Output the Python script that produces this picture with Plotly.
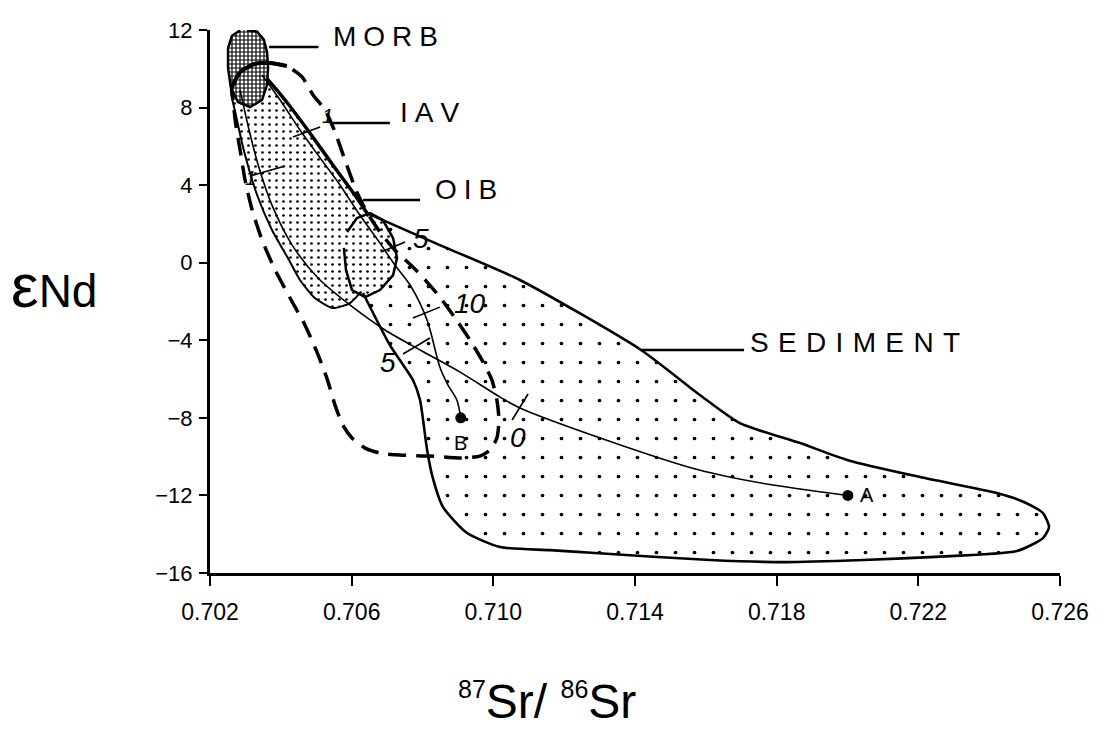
import plotly.graph_objects as go

# ---------------- data: 87Sr/86Sr (x) and epsilon-Nd (y) ----------------
# MORB field
morb_sr = [0.70304, 0.70333, 0.70352, 0.70361, 0.70364, 0.70361, 0.70347, 0.70313,
           0.70279, 0.70259, 0.70251, 0.70251, 0.70262, 0.70285]
morb_nd = [12.0, 11.92, 11.50, 10.87, 10.04, 9.16, 8.39, 8.03,
           8.29, 9.01, 10.04, 11.07, 11.70, 11.98]

# island-arc volcanics field
iav_sr = [0.70273, 0.70313, 0.70341, 0.70412, 0.70482, 0.70553, 0.70609, 0.70643,
          0.70657, 0.70652, 0.70629, 0.70595, 0.70547, 0.70496, 0.70454, 0.70420,
          0.70375, 0.70333, 0.70299, 0.70273, 0.70259]
iav_nd = [9.68, 9.94, 9.83, 8.39, 6.69, 4.88, 3.49, 2.56,
          1.94, 0.14, -1.41, -2.08, -2.34, -1.82, -0.89, 0.24,
          1.69, 3.49, 5.55, 7.62, 8.91]

# ocean-island basalt field
oib_sr = [0.70587, 0.70615, 0.70652, 0.70688, 0.70717, 0.70728, 0.70717, 0.70680,
          0.70638, 0.70601, 0.70584, 0.70578]
oib_nd = [1.58, 2.30, 2.56, 2.20, 1.27, 0.24, -0.64, -1.41,
          -1.77, -1.41, -0.38, 0.76]

# sediment field
sed_sr = [0.70643, 0.70849, 0.71075, 0.71417, 0.71583, 0.71696, 0.71866, 0.72001,
          0.72205, 0.72422, 0.72498, 0.72552, 0.72569, 0.72552, 0.72478, 0.72233,
          0.72044, 0.71826, 0.71612, 0.71287, 0.71160, 0.71019, 0.70926, 0.70858,
          0.70827, 0.70813, 0.70793, 0.70773, 0.70708, 0.70632]
sed_nd = [2.56, 0.91, -0.89, -4.50, -6.82, -8.27, -9.30, -10.18,
          -11.05, -11.88, -12.34, -12.91, -13.63, -14.20, -14.87, -15.18,
          -15.33, -15.44, -15.33, -14.97, -14.82, -14.66, -13.94, -12.60,
          -10.95, -9.66, -7.08, -6.05, -4.25, -1.56]

# dashed field
dash_sr = [0.70262, 0.70285, 0.70327, 0.70369, 0.70417, 0.70460, 0.70491, 0.70525,
           0.70553, 0.70581, 0.70612, 0.70643, 0.70680, 0.70722, 0.70773, 0.70813,
           0.70849, 0.70892, 0.70934, 0.70968, 0.70996, 0.71010, 0.71016, 0.71010,
           0.70991, 0.70962, 0.70906, 0.70821, 0.70736, 0.70680, 0.70638, 0.70601,
           0.70575, 0.70553, 0.70530, 0.70502, 0.70468, 0.70426, 0.70384, 0.70347,
           0.70319, 0.70299, 0.70285, 0.70273, 0.70265, 0.70262]
dash_nd = [9.06, 9.83, 10.25, 10.30, 10.14, 9.58, 8.65, 7.87,
           6.74, 5.30, 3.75, 2.61, 1.58, 0.65, -0.22, -1.00,
           -1.77, -2.85, -3.99, -5.02, -6.05, -7.08, -8.11, -9.04,
           -9.66, -9.97, -10.07, -9.97, -9.92, -9.82, -9.56, -9.04,
           -8.37, -7.34, -5.95, -4.61, -3.21, -1.82, -0.38, 1.17,
           2.72, 4.26, 5.81, 7.10, 8.39, 9.06]

# mixing curve towards sediment A
mixA_sr = [0.70285, 0.70307, 0.70336, 0.70375, 0.70432, 0.70505, 0.70595, 0.70694,
           0.70793, 0.70906, 0.71019, 0.71075, 0.71318, 0.71579, 0.71768, 0.72001]
mixA_nd = [8.91, 7.10, 5.04, 2.97, 0.91, -0.79, -2.18, -3.47,
           -4.50, -5.64, -6.93, -7.49, -9.14, -10.68, -11.40, -12.0]

# mixing curve towards sediment B
mixB_sr = [0.70347, 0.70398, 0.70454, 0.70511, 0.70567, 0.70623, 0.70680, 0.70722,
           0.70765, 0.70813, 0.70849, 0.70872, 0.70897, 0.70908]
mixB_nd = [9.68, 8.39, 6.84, 5.40, 4.01, 2.46, 1.01, -0.12,
           -1.15, -2.96, -5.38, -6.31, -7.08, -8.0]

# end members
end_sr = [0.72001, 0.70908]
end_nd = [-12.0, -8.0]
end_names = ["A", "B"]

# tick marks on mixing curves (start / end of each short bar)
tick_sr0 = [0.70313, 0.70434, 0.70683, 0.70773, 0.70745, 0.71053]
tick_nd0 = [4.47, 6.48, 0.55, -2.85, -4.71, -8.11]
tick_sr1 = [0.70412, 0.70511, 0.70751, 0.70849, 0.70821, 0.71098]
tick_nd1 = [4.99, 7.00, 1.07, -2.29, -3.88, -6.77]
tick_text = ["1", "1", "5", "10", "5", "0"]
tick_lab_sr = [0.70313, 0.70533, 0.70796, 0.70934, 0.70703, 0.71070]
tick_lab_nd = [4.37, 7.56, 1.27, -2.08, -5.17, -8.99]

# field names with leader lines (letter-spaced)
SP_N = "\u2005"
SP_W = "\u2004"
field_names = [SP_N.join("MORB"), SP_N.join("IAV"), SP_N.join("OIB"), SP_W.join("SEDIMENT")]
leader_sr0 = [0.70367, 0.70539, 0.70632, 0.71417]
leader_sr1 = [0.70506, 0.70708, 0.70793, 0.71708]
leader_nd = [11.12, 7.20, 3.23, -4.50]
name_sr = [0.70542, 0.70731, 0.70830, 0.71719]
name_nd = [11.64, 7.77, 3.75, -4.09]

x_ticks = [0.702, 0.706, 0.710, 0.714, 0.718, 0.722, 0.726]
y_ticks = [-16, -12, -8, -4, 0, 4, 8, 12]

FONT = "Liberation Sans, Arial, sans-serif"

fig = go.Figure()


def filled(xs, ys, shape, size, solidity, outline):
    fig.add_trace(go.Scatter(
        x=xs, y=ys, mode="lines", fill="toself",
        fillcolor="white",
        fillpattern=dict(shape=shape, size=size, solidity=solidity,
                         fgcolor="black", bgcolor="white", fillmode="replace"),
        line=dict(color="black", width=outline),
        hoverinfo="skip"))


# sediment fill (outline drawn later as an open path)
filled(sed_sr, sed_nd, ".", 19, 0.03, 0)
# island-arc volcanics
filled(iav_sr, iav_nd, ".", 7, 0.12, 0)
fig.add_trace(go.Scatter(x=iav_sr + iav_sr[:1], y=iav_nd + iav_nd[:1], mode="lines",
                         line=dict(color="black", width=2, shape="spline", smoothing=0.6),
                         hoverinfo="skip"))
# heavy upper-right edge of the IAV field
fig.add_trace(go.Scatter(x=iav_sr[1:8], y=iav_nd[1:8], mode="lines",
                         line=dict(color="black", width=3.5, shape="spline", smoothing=0.6),
                         hoverinfo="skip"))
# MORB
filled(morb_sr, morb_nd, "+", 4, 0.5, 2.5)
# OIB
filled(oib_sr, oib_nd, ".", 7, 0.12, 2.5)

# sediment outline
fig.add_trace(go.Scatter(x=sed_sr, y=sed_nd, mode="lines",
                         line=dict(color="black", width=2.6, shape="spline", smoothing=0.6),
                         hoverinfo="skip"))

# dashed field
fig.add_trace(go.Scatter(x=dash_sr, y=dash_nd, mode="lines",
                         line=dict(color="black", width=3.5, dash="18px,10px",
                                   shape="spline", smoothing=0.6),
                         hoverinfo="skip"))
fig.add_trace(go.Scatter(x=dash_sr[:5], y=dash_nd[:5], mode="lines",
                         line=dict(color="black", width=4, shape="spline", smoothing=0.6),
                         hoverinfo="skip"))

# mixing curves
for xs, ys in ((mixA_sr, mixA_nd), (mixB_sr, mixB_nd)):
    fig.add_trace(go.Scatter(x=xs, y=ys, mode="lines",
                             line=dict(color="black", width=1.6, shape="spline", smoothing=0.8),
                             hoverinfo="skip"))

# tick marks along the mixing curves
tx, ty = [], []
for a, b, c, d in zip(tick_sr0, tick_nd0, tick_sr1, tick_nd1):
    tx += [a, c, None]
    ty += [b, d, None]
fig.add_trace(go.Scatter(x=tx, y=ty, mode="lines",
                         line=dict(color="black", width=1.6), hoverinfo="skip"))

for t, xv, yv in zip(tick_text, tick_lab_sr, tick_lab_nd):
    big = t != "1"
    fig.add_annotation(x=xv, y=yv, text="<i>%s</i>" % t, showarrow=False,
                       xanchor="center", yanchor="middle",
                       font=dict(family=FONT, size=28 if big else 20, color="black"))

# end-member points
fig.add_trace(go.Scatter(x=end_sr, y=end_nd, mode="markers",
                         marker=dict(color="black", size=11), hoverinfo="skip"))
fig.add_annotation(x=end_sr[0], y=end_nd[0], text=end_names[0], showarrow=False,
                   xanchor="left", yanchor="middle", xshift=10,
                   font=dict(family=FONT, size=20, color="black"))
fig.add_annotation(x=end_sr[1], y=end_nd[1], text=end_names[1], showarrow=False,
                   xanchor="center", yanchor="top", yshift=-12,
                   font=dict(family=FONT, size=20, color="black"))

# leaders and field names
lx, ly = [], []
for a, b, y in zip(leader_sr0, leader_sr1, leader_nd):
    lx += [a, b, None]
    ly += [y, y, None]
fig.add_trace(go.Scatter(x=lx, y=ly, mode="lines",
                         line=dict(color="black", width=2.5), hoverinfo="skip"))
for name, xv, yv in zip(field_names, name_sr, name_nd):
    fig.add_annotation(x=xv, y=yv, text=name, showarrow=False,
                       xanchor="left", yanchor="middle",
                       font=dict(family=FONT, size=28, color="black"))

# axis titles
fig.add_annotation(xref="paper", yref="paper", x=0.397, y=-0.236,
                   xanchor="center", yanchor="middle",
                   text="<sup><span style='font-size:25px'>87</span></sup>Sr/ "
                        "<sup><span style='font-size:25px'>86</span></sup>Sr",
                   showarrow=False, font=dict(family=FONT, size=48, color="black"))
fig.add_annotation(xref="paper", yref="paper", x=-0.236, y=0.53,
                   xanchor="left", yanchor="middle",
                   text="<span style='font-size:62px'>ε</span>Nd",
                   showarrow=False, font=dict(family=FONT, size=46, color="black"))

fig.update_layout(
    width=1118, height=730,
    margin=dict(l=210, r=58, t=30, b=157),
    paper_bgcolor="white", plot_bgcolor="white",
    showlegend=False,
    xaxis=dict(range=[0.702, 0.726], tickvals=x_ticks,
               ticktext=["%.3f" % v for v in x_ticks],
               showline=True, linecolor="black", linewidth=3,
               ticks="outside", ticklen=10, tickwidth=2, tickcolor="black",
               showgrid=False, zeroline=False, ticklabelstandoff=6,
               tickfont=dict(family=FONT, size=23, color="black")),
    yaxis=dict(range=[-16, 12], tickvals=y_ticks,
               showline=True, linecolor="black", linewidth=3,
               ticks="outside", ticklen=8, tickwidth=2, tickcolor="black",
               showgrid=False, zeroline=False, ticklabelstandoff=2,
               tickfont=dict(family=FONT, size=22, color="black")),
)

fig.write_html("out.html")
